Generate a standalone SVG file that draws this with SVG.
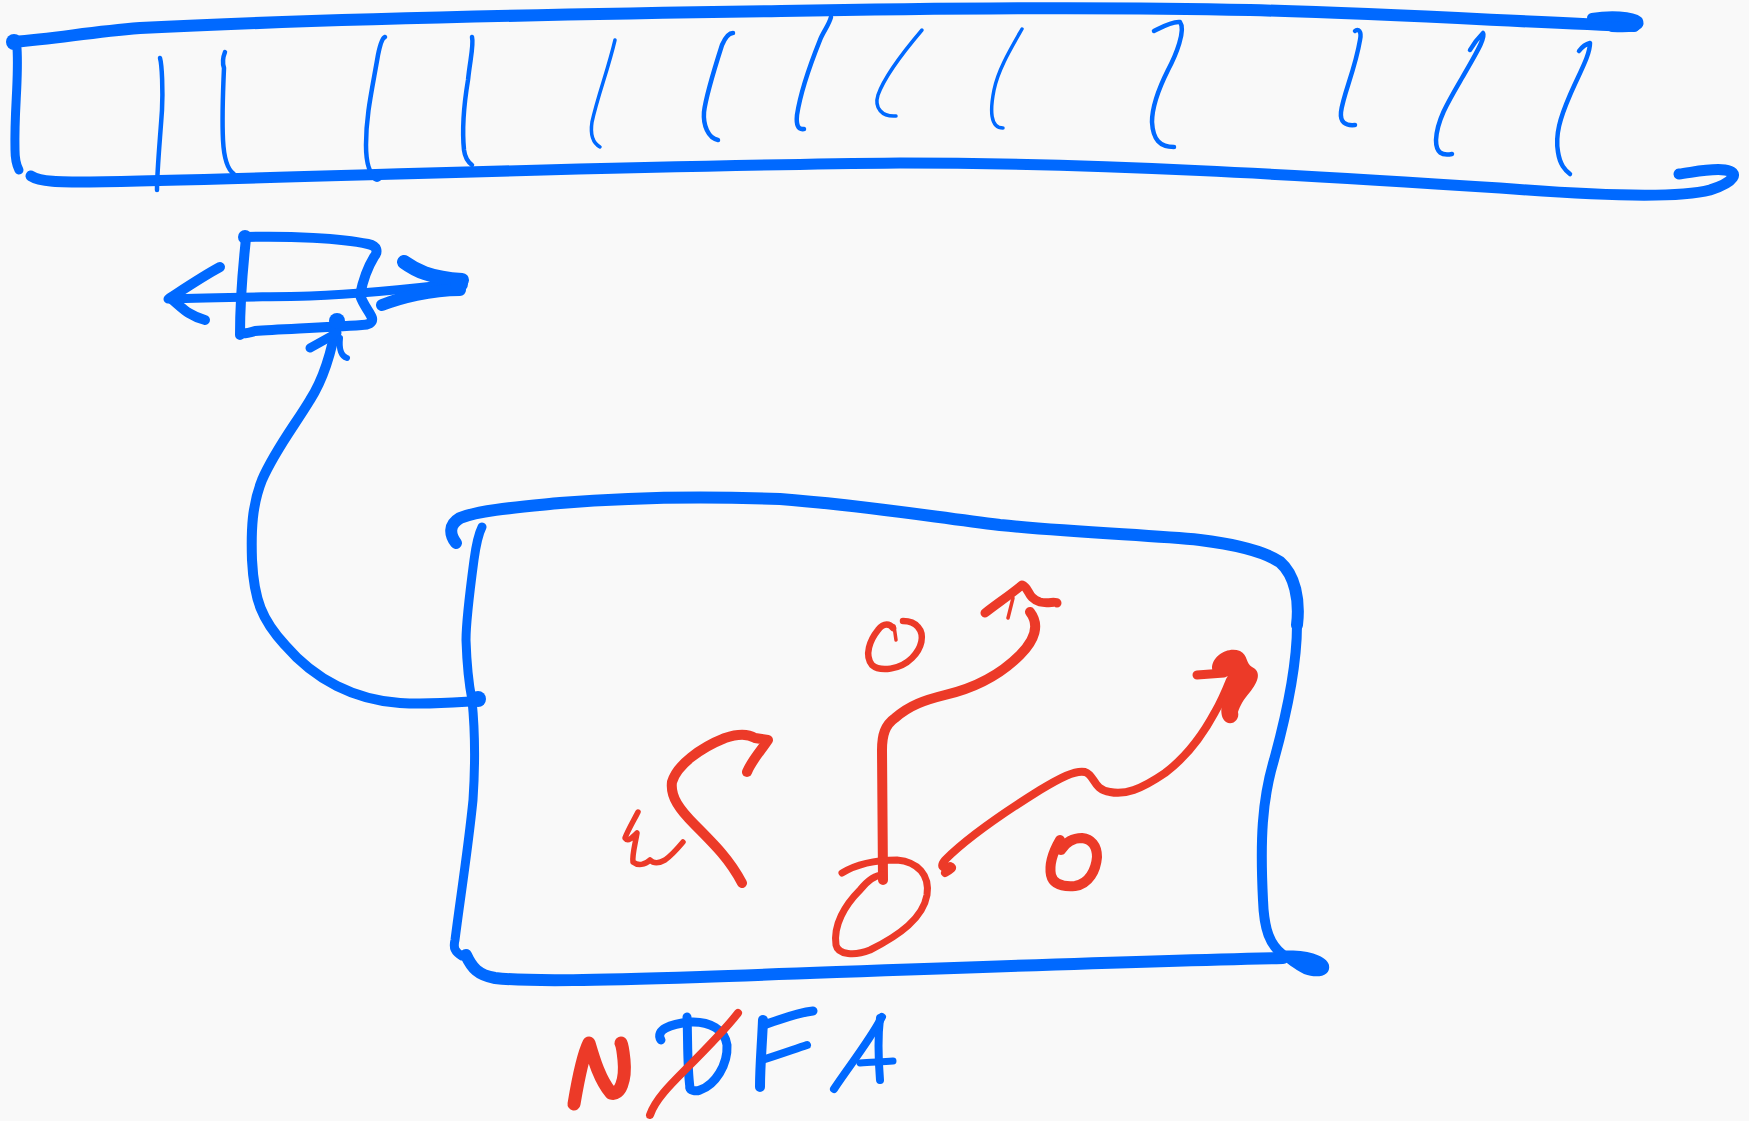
<svg xmlns="http://www.w3.org/2000/svg" width="1749" height="1121" viewBox="0 0 1749 1121">
<style>
.b{fill:none;stroke:#0069ff;stroke-linecap:round;stroke-linejoin:round}
.r{fill:none;stroke:#ec3a28;stroke-linecap:round;stroke-linejoin:round}
.bf{fill:#0069ff}
.rf{fill:#ec3a28}
.t{stroke-width:4.5}
</style>
<rect width="1749" height="1121" fill="#f9f9f9"/>
<g id="tape">
<path class="b" stroke-width="12" d="M13,42 C60,38 90,32 140,28 C300,20 500,15 781,11 C950,8 1115,7 1250,10 C1400,14 1520,22 1634,26"/>
<path class="b" stroke-width="10" d="M1592,18 C1610,15 1632,16 1638,21 C1641,27 1630,28 1612,27"/>
<circle class="bf" cx="14" cy="42" r="8"/>
<path class="b" stroke-width="9" d="M17,48 C19,80 14,110 15,150 C15,163 18,168 19,170"/>
<path class="b" stroke-width="11" d="M31,176 C40,182 60,182 90,182 C300,178 600,166 900,163 C1100,163 1300,175 1500,188 C1600,196 1680,198 1710,190 C1735,182 1740,172 1725,170 C1710,168 1690,173 1679,174"/>
<path class="b t" d="M160,58 C162,65 163,90 162,110 C160,140 157,170 157,190"/>
<path class="b t" d="M225,52 C223,57 222,62 224,68 C223,90 222,120 223,140 C224,160 228,170 234,174"/>
<path class="b t" d="M385,37 C382,38 380,45 378,55 C372,90 366,115 366,145 C366,165 370,175 377,178"/>
<circle class="bf" cx="377" cy="177" r="5"/>
<path class="b t" d="M472,37 C474,45 470,60 468,80 C463,110 462,130 464,150 C465,158 468,162 472,165"/>
<path class="b" stroke-width="3.5" d="M615,40 C608,70 598,95 592,122 C590,135 593,143 600,147"/>
<path class="b t" d="M733,33 C728,33 725,38 722,45 C714,70 706,95 704,112 C703,125 708,138 718,140"/>
<path class="b t" d="M831,17 C829,25 823,32 820,40 C808,70 800,95 797,115 C796,125 798,130 804,129"/>
<path class="b" stroke-width="3.5" d="M922,30 C905,50 885,75 878,95 C874,108 882,117 896,116"/>
<path class="b" stroke-width="3.5" d="M1022,29 C1010,50 998,70 994,90 C990,110 990,128 1003,128"/>
<path class="b t" d="M1154,31 C1162,27 1172,21 1180,22 C1186,30 1176,55 1168,70 C1158,90 1152,108 1152,122 C1153,140 1160,147 1174,147"/>
<path class="b t" d="M1355,31 C1358,28 1362,31 1360,40 C1355,70 1343,95 1341,112 C1340,122 1345,126 1355,125"/>
<path class="b t" d="M1470,50 C1474,43 1478,38 1483,33 C1486,38 1475,55 1462,78 C1448,102 1437,120 1436,140 C1436,153 1442,156 1452,154"/>
<path class="b t" d="M1579,51 C1582,47 1586,44 1590,43 C1590,55 1580,72 1570,95 C1560,118 1555,135 1558,152 C1560,165 1565,170 1570,174"/>
</g>
<g id="icon">
<path class="b" stroke-width="10" d="M247,237 C290,236 340,238 368,244 C378,246 378,252 374,257 C366,270 362,285 360,295 C363,305 370,312 372,318 C373,323 368,325 362,325 C320,328 280,329 255,331 C248,333 244,334 241,333"/>
<path class="b" stroke-width="10" d="M246,238 C244,260 240,290 240,335"/>
<circle class="bf" cx="245" cy="237" r="7"/>
<path class="b" stroke-width="9" d="M168,299 C220,297 270,297 310,296 C360,294 410,289 460,283"/>
<path class="b" stroke-width="10" d="M220,267 C205,275 190,285 170,298 C180,305 186,315 205,320"/>
<path class="b" stroke-width="14" d="M404,262 C415,270 430,278 462,280"/>
<path class="b" stroke-width="12" d="M382,305 C400,298 430,290 460,290"/>
<circle class="bf" cx="459" cy="284" r="9"/>
</g>
<g id="box">
<path class="b" stroke-width="12" d="M456,543 C450,535 448,525 460,518 C480,510 520,507 560,503 C620,498 700,496 780,499 C860,505 920,515 1000,525 C1080,533 1150,535 1200,540 C1240,545 1265,552 1280,562 C1295,575 1300,600 1297,625"/>
<path class="b" stroke-width="9" d="M482,527 C478,535 476,545 474,560 C470,590 466,620 466,640 C467,670 470,690 472,700 C475,730 475,770 473,800 C468,850 460,900 455,940 C453,948 455,952 462,956"/>
<path class="b" stroke-width="12" d="M466,955 C472,968 478,975 495,978 C530,982 600,980 700,977 C900,970 1100,962 1283,958"/>
<path class="b" stroke-width="10" d="M1297,625 C1297,670 1285,720 1274,760 C1262,800 1260,840 1263,900 C1264,930 1270,945 1283,955"/>
<path class="bf" d="M1280,951 C1305,949 1326,955 1329,965 C1331,976 1318,979 1304,974 C1294,969 1286,962 1280,958 Z"/>
</g>
<g id="connectors">
<path class="b" stroke-width="10" d="M337,320 C333,345 326,375 310,400 C295,425 275,450 262,480 C252,505 251,530 252,560 C254,600 262,620 285,645 C315,680 355,700 400,703 C430,705 460,702 480,701"/>
<circle class="bf" cx="478" cy="699" r="8"/>
<circle class="bf" cx="337" cy="321" r="8"/>
<path class="b" stroke-width="9" d="M310,348 L337,333"/>
<path class="b" stroke-width="6" d="M340,338 C339,348 341,356 347,358"/>
</g>
<g id="automaton">
<path class="r" stroke-width="6.5" d="M893,628 C890,624 884,622 878,630 C870,640 864,655 872,665 C880,672 900,670 912,658 C922,648 925,635 918,627 C914,622 908,621 903,621"/>
<path class="r" stroke-width="3.5" d="M894,626 L896,640"/>
<path class="r" stroke-width="10" d="M883,880 C883,840 882,790 882,750 C882,735 885,725 895,718 C910,705 925,700 945,695 C975,688 1000,675 1020,655 C1035,640 1040,625 1030,612"/>
<path class="r" stroke-width="9" d="M985,613 C995,605 1010,595 1022,585 C1030,588 1027,598 1040,602 C1048,604 1055,601 1057,603"/>
<path class="r" stroke-width="3.5" d="M1013,598 L1008,618"/>
<path class="r" stroke-width="7" d="M842,873 C855,865 875,860 897,860 C918,862 930,875 927,895 C923,918 900,935 870,950 C855,956 838,955 836,945 C833,925 845,905 860,890 C868,880 875,875 883,875"/>
<path class="r" stroke-width="10" d="M742,883 C730,860 715,845 695,825 C680,810 670,797 672,782 C677,765 700,748 725,738 C740,733 750,735 755,738 L768,740 C760,752 752,760 747,772"/>
<path class="r" stroke-width="5.5" d="M638,812 C634,820 628,830 625,838 C628,842 632,838 637,833 C635,845 632,855 633,862 C638,866 645,865 650,860 C653,863 658,864 665,860 C672,855 678,848 683,842"/>
<path class="r" stroke-width="8" d="M945,873 C950,870 955,868 950,866 C942,870 940,866 945,860 C965,840 1000,815 1040,790 C1060,778 1075,770 1085,772 C1095,775 1093,790 1110,792 C1125,795 1140,790 1165,773 C1185,758 1200,740 1215,712 C1222,700 1226,690 1230,680"/>
<path class="r" stroke-width="9" d="M1197,675 L1224,673"/>
<path class="rf" d="M1212,668 C1212,656 1228,646 1240,651 C1248,655 1246,664 1252,667 C1262,672 1258,682 1250,692 C1243,700 1240,706 1238,712 C1240,720 1232,726 1226,722 C1218,716 1222,700 1226,690 C1230,682 1230,676 1224,674 C1218,674 1212,673 1212,668 Z"/>
<path class="r" stroke-width="10" d="M1060,840 C1053,852 1049,865 1051,875 C1053,884 1062,887 1075,886 C1089,884 1096,870 1097,857 C1097,845 1091,839 1082,838 C1074,838 1066,842 1061,850"/>
</g>
<g id="label">
<path class="r" stroke-width="13" d="M574,1104 C578,1080 583,1055 589,1043 C594,1060 600,1080 611,1093 C620,1096 626,1080 624,1060 C623,1050 622,1045 621,1043"/>
<path class="b" stroke-width="9" d="M687,1017 C688,1040 687,1065 690,1088"/>
<path class="b" stroke-width="9" d="M661,1040 C655,1030 670,1024 690,1022 C710,1021 725,1030 727,1045 C728,1065 715,1085 700,1090 C695,1092 690,1090 690,1088"/>
<path class="r" stroke-width="8" d="M738,1013 C725,1030 705,1050 685,1070 C670,1085 655,1100 650,1115"/>
<path class="b" stroke-width="10" d="M763,1020 C762,1045 760,1065 760,1087"/>
<path class="b" stroke-width="9" d="M763,1025 C780,1020 795,1013 813,1011"/>
<path class="b" stroke-width="8" d="M762,1060 C778,1055 792,1050 807,1045"/>
<path class="b" stroke-width="8" d="M882,1017 C870,1040 850,1065 834,1089"/>
<path class="b" stroke-width="8" d="M880,1018 C878,1035 878,1055 880,1080"/>
<path class="b" stroke-width="7" d="M860,1063 C870,1062 880,1062 893,1061"/>
</g>
</svg>
